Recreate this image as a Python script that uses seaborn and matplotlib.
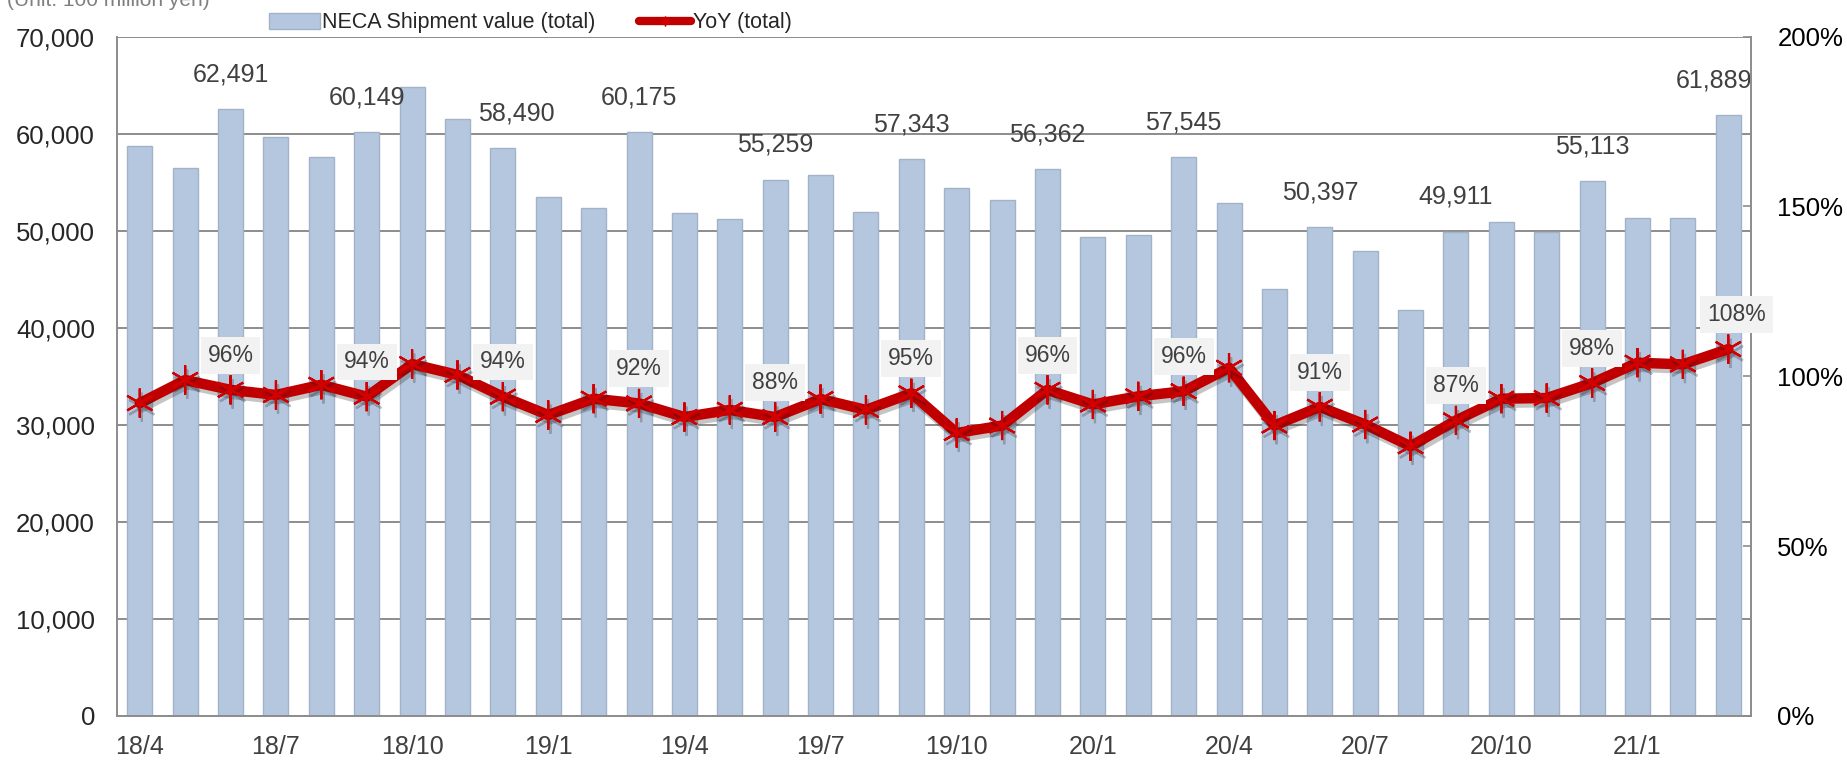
import numpy as np
import pandas as pd
import seaborn as sns
import matplotlib.pyplot as plt
import matplotlib.patheffects as pe
from matplotlib.patches import Patch
from matplotlib.lines import Line2D
from matplotlib.ticker import FuncFormatter, FixedLocator

# --- style ---
sns.set_theme(style="white")
plt.rcParams['font.family'] = ['Liberation Sans', 'DejaVu Sans']

# --- data ---
months = ['18/4', '18/5', '18/6', '18/7', '18/8', '18/9', '18/10', '18/11', '18/12',
          '19/1', '19/2', '19/3', '19/4', '19/5', '19/6', '19/7', '19/8', '19/9',
          '19/10', '19/11', '19/12', '20/1', '20/2', '20/3', '20/4', '20/5', '20/6',
          '20/7', '20/8', '20/9', '20/10', '20/11', '20/12', '21/1', '21/2', '21/3']
shipment = [58750, 56470, 62491, 59670, 57560, 60149, 64810, 61540, 58490,
            53480, 52360, 60175, 51810, 51240, 55259, 55690, 51910, 57343,
            54410, 53150, 56362, 49300, 49540, 57545, 52870, 44010, 50397,
            47930, 41780, 49911, 50930, 49910, 55113, 51310, 51310, 61889]
yoy = [92.1, 98.9, 96.0, 94.5, 97.5, 94.0, 103.6, 100.4, 94.0,
       88.6, 93.4, 92.0, 88.0, 90.1, 88.0, 93.3, 90.1, 95.0,
       83.3, 85.5, 96.0, 91.7, 94.1, 95.6, 102.5, 85.5, 91.0,
       85.8, 79.4, 87.0, 93.4, 93.6, 98.0, 104.0, 103.5, 108.0]
tick_labels = months[::3]

df = pd.DataFrame({'month': months, 'shipment': shipment, 'yoy': yoy})
label_idx = list(range(2, len(months), 3))

BAR = '#b4c7df'
RED = '#c00000'
GRID = '#8c8c8c'
TXT = '#404040'

fig = plt.figure(figsize=(18.47, 7.62), dpi=100)
ax = fig.add_axes([0.0634, 0.0604, 0.948 - 0.0634, 0.952 - 0.0604])

sns.barplot(data=df, x='month', y='shipment', color=BAR, saturation=1,
            width=0.55, edgecolor='#a3b3c7', linewidth=1, ax=ax)
ax.set_xlim(-0.5, len(months) - 0.5)
ax.set_ylim(0, 70000)
ax.set_yticks(range(0, 70001, 10000))
ax.yaxis.set_major_formatter(FuncFormatter(lambda v, p: f"{int(v):,}"))
ax.grid(axis='y', color=GRID, linewidth=1.4)
ax.set_axisbelow(True)
ax.set_xlabel('')
ax.set_ylabel('')
ax.set_xticks(range(0, len(months), 3))
ax.set_xticklabels(tick_labels)
ax.xaxis.set_minor_locator(FixedLocator(np.arange(0.5, len(months) - 1, 1)))
ax.tick_params(axis='x', which='major', length=0, pad=14, labelsize=18, labelcolor=TXT)
ax.tick_params(axis='x', which='minor', length=7, width=1.2, color=GRID, direction='in')
ax.tick_params(axis='y', length=0, pad=16, labelsize=18.5, labelcolor='#262626')
for s in ['left', 'bottom']:
    ax.spines[s].set_color(GRID)
    ax.spines[s].set_linewidth(1.4)
ax.spines['top'].set_visible(False)
ax.spines['right'].set_visible(False)

# bar value labels every quarter end
x_shift = {8: 10, 35: -10}
for i in label_idx:
    ax.annotate(f"{shipment[i]:,}", (i, shipment[i]), xytext=(x_shift.get(i, 0), 25),
                textcoords='offset points', ha='center', va='center',
                fontsize=18, color=TXT)

# YoY line on secondary axis
ax2 = ax.twinx()
sns.lineplot(x=np.arange(len(months)), y=df['yoy'], ax=ax2, color=RED, linewidth=7.5,
             marker=(6, 2, 0), markersize=21, markeredgewidth=1.6,
             markeredgecolor='#d40000', markerfacecolor='#d40000',
             path_effects=[pe.SimpleLineShadow(offset=(1.5, -3), alpha=0.25), pe.Normal()])
ax2.set_ylim(0, 200)
ax2.set_yticks(range(0, 201, 50))
ax2.yaxis.set_major_formatter(FuncFormatter(lambda v, p: f"{int(v)}%"))
ax2.set_ylabel('')
ax2.tick_params(axis='y', direction='in', length=6, width=1.2, color=GRID,
                pad=19, labelsize=18.5, labelcolor='black')
ax2.spines['right'].set_color(GRID)
ax2.spines['right'].set_linewidth(1.4)
for s in ['top', 'left', 'bottom']:
    ax2.spines[s].set_visible(False)
ax2.grid(False)

for i in label_idx:
    dx = 6 if i == len(months) - 1 else 0
    ax2.annotate(f"{yoy[i]:.0f}%", (i, yoy[i]), xytext=(dx, 25),
                 textcoords='offset points', ha='center', va='center',
                 fontsize=16.5, color=TXT,
                 bbox=dict(boxstyle='square,pad=0.3', facecolor='#f2f2f2', edgecolor='none'))

# legend
handles = [Patch(facecolor=BAR, edgecolor='#a3b3c7', label='NECA Shipment value (total)'),
           Line2D([0], [0], color=RED, linewidth=6, marker=(6, 2, 0), markersize=7,
                  markeredgecolor='#d40000', label='YoY (total)')]
fig.legend(handles=handles, loc='center', bbox_to_anchor=(0.287, 0.97), ncol=2,
           frameon=False, fontsize=15.5, handlelength=2.4, handleheight=0.8,
           handletextpad=0.1, columnspacing=2.0)

# unit note, cut off at the top edge as in the source
fig.text(0.004, 1.0, '(Unit: 100 million yen)', fontsize=15, color='#7f7f7f',
         ha='left', va='center')

fig.savefig('out.png', dpi=100)
